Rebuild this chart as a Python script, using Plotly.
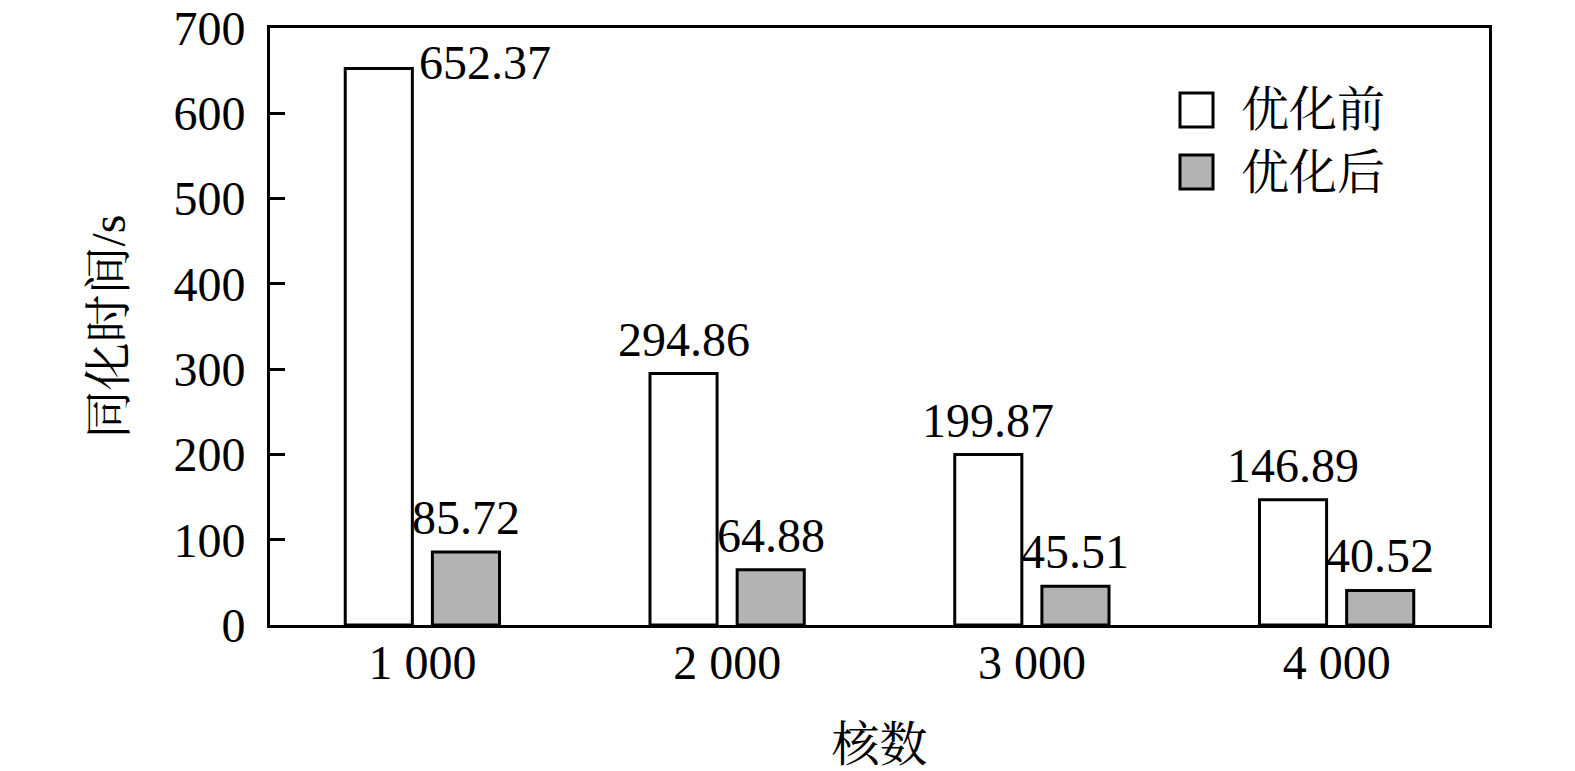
import plotly.graph_objects as go

# data
CORES = ['1 000', '2 000', '3 000', '4 000']
BEFORE = [652.37, 294.86, 199.87, 146.89]
AFTER = [85.72, 64.88, 45.51, 40.52]
SERIES_NAMES = ['优化前', '优化后']
Y_TICKS = [0, 100, 200, 300, 400, 500, 600, 700]

FONT = 'Liberation Serif, Times New Roman, Noto Serif CJK SC, Noto Sans CJK SC'
FONT_SIZE = 48
GREY = '#b3b3b3'

# the page body adds an 8px margin, so the figure is shrunk by that much
PAGE_OFFSET = 8
W, H = 1575 - PAGE_OFFSET, 771 - PAGE_OFFSET
L, R, T, B = 262, 86, 20, 146
PW, PH = W - L - R, H - T - B
BAR_SHIFT = 43.5  # px from category centre to each bar centre


def px_to_paper(x, y):
    # x, y are pixel positions in the browser window
    x -= PAGE_OFFSET
    y -= PAGE_OFFSET
    return (x - L) / PW, (H - B - y) / PH


fig = go.Figure()

fig.add_trace(go.Bar(
    x=CORES, y=BEFORE, name=SERIES_NAMES[0],
    marker=dict(color='white', line=dict(color='black', width=3)),
))
fig.add_trace(go.Bar(
    x=CORES, y=AFTER, name=SERIES_NAMES[1],
    marker=dict(color=GREY, line=dict(color='black', width=3)),
))

value_font = dict(family=FONT, size=FONT_SIZE, color='black')

# value labels above the bars; the first "before" label sits to the right of its bar
for i, (cat, v) in enumerate(zip(CORES, BEFORE)):
    if i == 0:
        fig.add_annotation(x=cat, y=v, text=f'{v:.2f}', showarrow=False,
                           xanchor='left', yanchor='middle', xshift=-5, yshift=6,
                           font=value_font)
    else:
        fig.add_annotation(x=cat, y=v, text=f'{v:.2f}', showarrow=False,
                           xanchor='center', yanchor='bottom', xshift=-BAR_SHIFT, yshift=6,
                           font=value_font)
for cat, v in zip(CORES, AFTER):
    fig.add_annotation(x=cat, y=v, text=f'{v:.2f}', showarrow=False,
                       xanchor='center', yanchor='bottom', xshift=BAR_SHIFT, yshift=6,
                       font=value_font)

# legend drawn by hand so the swatches can be as large as in the original
legend_items = [(SERIES_NAMES[0], 'white', 110), (SERIES_NAMES[1], GREY, 172)]
for name, colour, cy in legend_items:
    x0, y0 = px_to_paper(1180, cy + 17)
    x1, y1 = px_to_paper(1213, cy - 17)
    fig.add_shape(type='rect', xref='paper', yref='paper', x0=x0, y0=y0, x1=x1, y1=y1,
                  line=dict(color='black', width=3), fillcolor=colour)
    tx, ty = px_to_paper(1239, cy)
    fig.add_annotation(x=tx, y=ty, xref='paper', yref='paper', text=name, showarrow=False,
                       xanchor='left', yanchor='middle', font=value_font)

fig.update_layout(
    width=W, height=H,
    margin=dict(l=L, r=R, t=T, b=B),
    paper_bgcolor='white', plot_bgcolor='white',
    barmode='group', bargap=0.428, bargroupgap=0.23,
    showlegend=False,
    font=dict(family=FONT, size=FONT_SIZE, color='black'),
)

fig.update_xaxes(
    type='category', automargin=False,
    showline=True, linecolor='black', linewidth=3, mirror=True,
    ticks='', showgrid=False,
    ticklabelstandoff=-7,
    tickfont=dict(family=FONT, size=FONT_SIZE),
    title=dict(text='核数', standoff=43, font=dict(family=FONT, size=FONT_SIZE)),
)
fig.update_yaxes(
    range=[0, 700], tickvals=Y_TICKS, automargin=False,
    showline=True, linecolor='black', linewidth=3, mirror=True,
    ticks='inside', ticklen=15, tickwidth=3, tickcolor='black',
    ticklabelstandoff=12, ticklabeloverflow='allow',
    showgrid=False, zeroline=False,
    tickfont=dict(family=FONT, size=FONT_SIZE),
    title=dict(text='同化时间/s', standoff=33, font=dict(family=FONT, size=FONT_SIZE)),
)

fig.write_html('out.html')
